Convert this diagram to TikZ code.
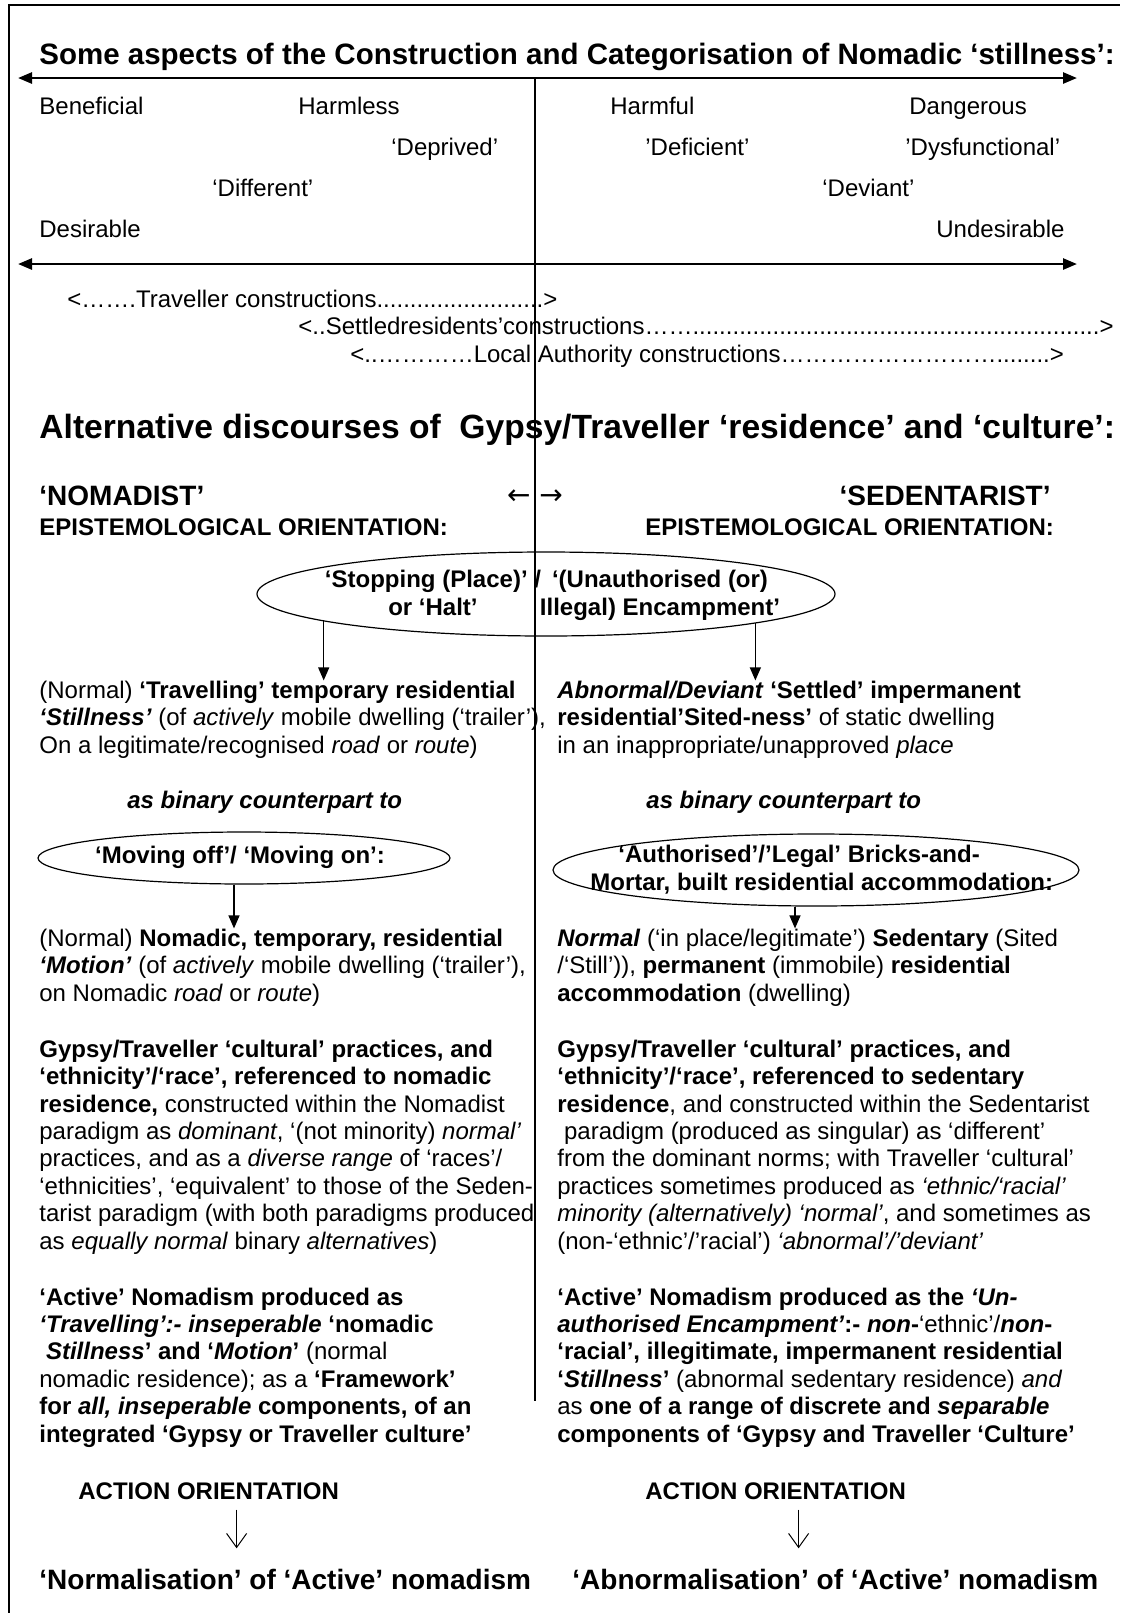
\documentclass[tikz,border=0pt]{standalone}
\usepackage{fontspec}
\setmainfont{Liberation Sans}
\newfontfamily\frecce{DejaVu Sans}
\usetikzlibrary{arrows.meta,shapes.geometric}

\begin{document}
\begin{tikzpicture}[x=0.5pt,y=-0.5pt,
  testo/.style={inner sep=0pt,anchor=base west,align=left,
    font=\fontsize{12}{13.7}\selectfont},
  grassetto/.style={testo,font=\fontsize{12}{13.7}\selectfont\bfseries},
  ovale/.style={draw,ellipse,line width=0.6pt,inner sep=0pt},
  asse/.style={line width=1.3pt,
    {Triangle[length=7pt,width=5.5pt]}-{Triangle[length=7pt,width=5.5pt]}},
  freccia/.style={line width=0.6pt,-{Triangle[length=6.5pt,width=5.5pt]}},
  frecciaAperta/.style={line width=0.5pt,-{Straight Barb[length=7pt,width=10pt]}}]
  \useasboundingbox (0,0) rectangle (1120,1613);
  % Cornice aperta: solo lato superiore e sinistro.
  \draw[line width=0.8pt] (9,1613) -- (9,5) -- (1120,5);
  % Titolo e assi della scala di valutazione.
  \node[testo,font=\fontsize{14.75}{17}\selectfont\bfseries] (titolo) at (39,64)
    {Some aspects of the Construction and Categorisation of Nomadic ‘stillness’:};
  \coordinate (assoSu1) at (18,78);
  \coordinate (assoSu2) at (1077,78);
  \coordinate (assoGiu1) at (18,264);
  \coordinate (assoGiu2) at (1077,264);
  \draw[asse] (assoSu1) -- (assoSu2);
  \draw[asse] (assoGiu1) -- (assoGiu2);
  % Linea di separazione tra i due orientamenti.
  \coordinate (centroSu) at (535,78);
  \coordinate (centroGiu) at (535,1401);
  \draw[line width=0.6pt] (centroSu) -- (centroGiu);
  % Termini della scala (x, linea di base, parola).
  \foreach \x/\y/\parola [count=\i] in {
    39/114/Beneficial, 298/114/Harmless, 610/114/Harmful, 909/114/Dangerous,
    391/155/‘Deprived’, 645/155/’Deficient’, 905/155/’Dysfunctional’,
    212/196/‘Different’, 822/196/‘Deviant’,
    39/237/Desirable, 936/237/Undesirable}{
    \node[testo] (voce\i) at (\x,\y) {\parola};
  }
  % Chi costruisce la scala.
  \node[testo] (costrViaggiatori) at (67,307)
    {<…….Traveller constructions.........................>};
  \node[testo] (costrResidenti) at (298,334)
    {<..Settledresidents’constructions…….............................................................>};
  \node[testo] (costrAutorita) at (350,362)
    {<..…………Local Authority constructions………………………........>};
  % Secondo titolo e intestazioni delle due colonne.
  \node[testo,font=\fontsize{16.8}{19}\selectfont\bfseries] (alternative) at (39,438)
    {Alternative discourses of~ Gypsy/Traveller ‘residence’ and ‘culture’:};
  \node[testo,font=\fontsize{14}{16}\selectfont\bfseries] (nomadista) at (39,505) {‘NOMADIST’};
  \node[testo,font=\fontsize{14}{16}\selectfont\bfseries,anchor=base east] (sedentarista)
    at (1051,505) {‘SEDENTARIST’};
  \node[testo,anchor=base east,font=\fontsize{14}{16}\frecce] (versoSx) at (531,504) {←};
  \node[testo,font=\fontsize{14}{16}\frecce] (versoDx) at (539,504) {→};
  \node[grassetto] (episteA) at (39,535) {EPISTEMOLOGICAL ORIENTATION:};
  \node[grassetto] (episteB) at (645,535) {EPISTEMOLOGICAL ORIENTATION:};
  % Primo ovale: sosta / accampamento (base = ultima riga).
  \node[ovale,minimum width=289pt,minimum height=42pt] (sosta) at (546,594) {};
  \node[grassetto,anchor=base,align=center] (sostaSx) at (433,615)
    {‘Stopping (Place)’ /\\or ‘Halt’};
  \node[grassetto,anchor=base,align=center] (sostaDx) at (660,615)
    {‘(Unauthorised (or)\\Illegal) Encampment’};
  \node[testo] (parA1) at (39,753)
    {(Normal) \textbf{‘Travelling’ temporary residential}\\
     \textbf{\textit{‘Stillness’}} (of \textit{actively} mobile dwelling (‘trailer’),\\
     On a legitimate/recognised \textit{road} or \textit{route})};
  \node[testo] (parB1) at (557,753)
    {\textbf{\textit{Abnormal/Deviant}} \textbf{‘Settled’ impermanent}\\
     \textbf{residential’Sited-ness’} of static dwelling\\
     in an inappropriate/unapproved \textit{place}};
  \draw[freccia] (sosta.187) -- (sosta.187 |- parA1.north);
  \draw[freccia] (sosta.352) -- (sosta.352 |- parB1.north);
  \node[testo,font=\fontsize{12}{13.7}\selectfont\bfseries\itshape] (binarioA) at (127,808)
    {as binary counterpart to};
  \node[testo,font=\fontsize{12}{13.7}\selectfont\bfseries\itshape] (binarioB) at (646,808)
    {as binary counterpart to};
  % Ovali della controparte binaria.
  \node[ovale,minimum width=206pt,minimum height=26pt] (muovi) at (244,858) {};
  \node[grassetto,anchor=base] (muoviTesto) at (240,863) {‘Moving off’/ ‘Moving on’:};
  \node[ovale,minimum width=263pt,minimum height=36pt] (autor) at (816,870) {};
  \node[grassetto] (autorTesto) at (590,890)
    {\hspace*{14pt}‘Authorised’/’Legal’ Bricks-and-\\
     Mortar, built residential accommodation:};
  \node[testo] (parA2) at (39,1001)
    {(Normal) \textbf{Nomadic, temporary, residential}\\
     \textbf{\textit{‘Motion’}} (of \textit{actively} mobile dwelling (‘trailer’),\\
     on Nomadic \textit{road} or \textit{route})};
  \node[testo] (parB2) at (557,1001)
    {\textbf{\textit{Normal}} (‘in place/legitimate’) \textbf{Sedentary} (Sited\\
     /‘Still’)), \textbf{permanent} (immobile) \textbf{residential}\\
     \textbf{accommodation} (dwelling)};
  \coordinate (codaMuovi) at ([xshift=-5pt]muovi.south);
  \coordinate (codaAutor) at ([xshift=-10.5pt]autor.south);
  \draw[freccia] (codaMuovi) -- (codaMuovi |- parA2.north);
  \draw[freccia] (codaAutor) -- (codaAutor |- parB2.north);
  % Pratiche culturali.
  \node[testo] (parA3) at (39,1249)
    {\textbf{Gypsy/Traveller ‘cultural’ practices, and}\\
     \textbf{‘ethnicity’/‘race’, referenced to nomadic}\\
     \textbf{residence,} constructed within the Nomadist\\
     paradigm as \textit{dominant}, ‘(not minority) \textit{normal’}\\
     practices, and as a \textit{diverse range} of ‘races’/\\
     ‘ethnicities’, ‘equivalent’ to those of the Seden-\\
     tarist paradigm (with both paradigms produced\\
     as \textit{equally normal} binary \textit{alternatives})};
  \node[testo] (parB3) at (557,1249)
    {\textbf{Gypsy/Traveller ‘cultural’ practices, and}\\
     \textbf{‘ethnicity’/‘race’, referenced to sedentary}\\
     \textbf{residence}, and constructed within the Sedentarist\\
     \ paradigm (produced as singular) as ‘different’\\
     from the dominant norms; with Traveller ‘cultural’\\
     practices sometimes produced as \textit{‘ethnic/‘racial’}\\
     \textit{minority (alternatively) ‘normal’}, and sometimes as\\
     (non-‘ethnic’/’racial’) \textit{‘abnormal’/’deviant’}};
  % Nomadismo attivo.
  \node[testo] (parA4) at (39,1442)
    {\textbf{‘Active’ Nomadism produced as}\\
     \textbf{\textit{‘Travelling’:- inseperable} ‘nomadic}\\
     \ \textbf{\textit{Stillness}’ and ‘\textit{Motion}’} (normal\\
     nomadic residence); as a \textbf{‘Framework’}\\
     \textbf{for \textit{all, inseperable} components, of an}\\
     \textbf{integrated ‘Gypsy or Traveller culture’}};
  \node[testo] (parB4) at (557,1442)
    {\textbf{‘Active’ Nomadism produced as the \textit{‘Un-}}\\
     \textbf{\textit{authorised Encampment’}:- \textit{non}-}‘ethnic’/\textbf{\textit{non}-}\\
     \textbf{‘racial’, illegitimate, impermanent residential}\\
     \textbf{‘\textit{Stillness}’} (abnormal sedentary residence) \textit{and}\\
     as \textbf{one of a range of discrete and \textit{separable}}\\
     \textbf{components of ‘Gypsy and Traveller ‘Culture’}};
  % Orientamento all'azione (lato, x, x finale, spostamento freccia, esito).
  \foreach \lato/\x/\xf/\dx/\frase in {
    A/78/39/14/{‘Normalisation’ of ‘Active’ nomadism},
    B/645/572/11.5/{‘Abnormalisation’ of ‘Active’ nomadism}}{
    \node[grassetto] (azione\lato) at (\x,1499) {ACTION ORIENTATION};
    \node[testo,font=\fontsize{14}{16}\selectfont\bfseries] (finale\lato) at (\xf,1589) {\frase};
    \coordinate (coda\lato) at ([xshift=\dx pt,yshift=-5pt]azione\lato.south);
    \coordinate (punta\lato) at ([yshift=10pt]finale\lato.north);
    \draw[frecciaAperta] (coda\lato) -- (coda\lato |- punta\lato);
  }
\end{tikzpicture}
\end{document}
